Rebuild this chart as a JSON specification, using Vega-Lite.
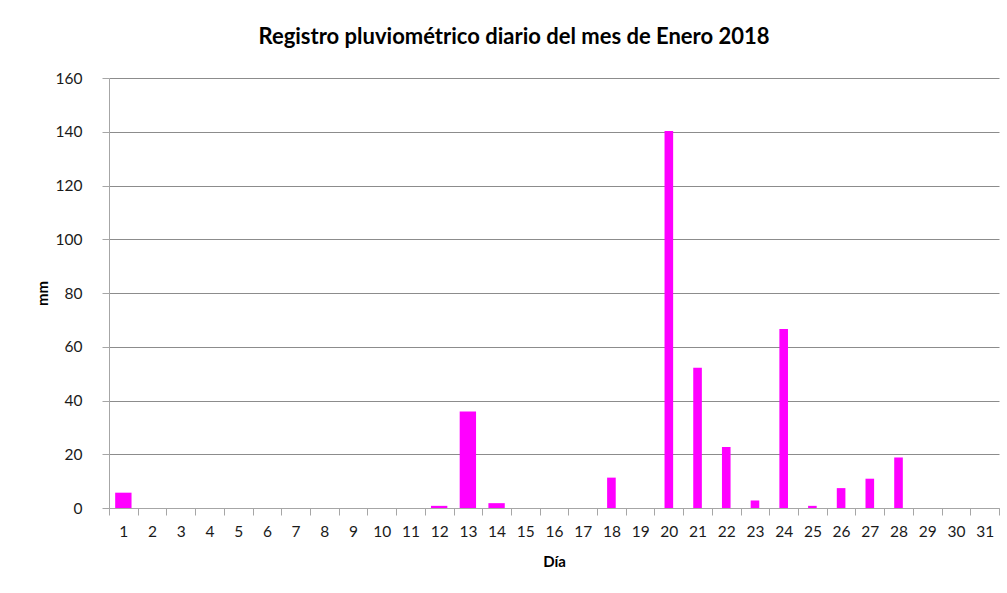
{
  "$schema": "https://vega.github.io/schema/vega-lite/v6.json",
  "autosize": {"type": "none"},
  "width": 890,
  "height": 430,
  "padding": {"left": 109, "top": 78, "right": 8, "bottom": 85},
  "background": "white",
  "title": {
    "text": "Registro pluviométrico diario del mes de Enero 2018",
    "font": "Lato",
    "fontSize": 22,
    "fontWeight": "bold",
    "color": "#000000",
    "anchor": "middle",
    "dx": -40,
    "offset": 22
  },
  "config": {
    "view": {"stroke": null},
    "font": "Lato",
    "axis": {
      "labelFont": "Lato",
      "labelFontSize": 15.5,
      "labelColor": "#1a1a1a",
      "titleFont": "Lato",
      "titleFontSize": 15,
      "titleFontWeight": "bold",
      "titleColor": "#000000",
      "domainColor": "#a6a6a6",
      "tickColor": "#a6a6a6",
      "tickSize": 7
    }
  },
  "data": {
    "values": [
      {"dia": 1, "mm": 5.7},
      {"dia": 2, "mm": 0},
      {"dia": 3, "mm": 0},
      {"dia": 4, "mm": 0},
      {"dia": 5, "mm": 0},
      {"dia": 6, "mm": 0},
      {"dia": 7, "mm": 0},
      {"dia": 8, "mm": 0},
      {"dia": 9, "mm": 0},
      {"dia": 10, "mm": 0},
      {"dia": 11, "mm": 0},
      {"dia": 12, "mm": 0.8},
      {"dia": 13, "mm": 35.9},
      {"dia": 14, "mm": 1.8},
      {"dia": 15, "mm": 0},
      {"dia": 16, "mm": 0},
      {"dia": 17, "mm": 0},
      {"dia": 18, "mm": 11.3},
      {"dia": 19, "mm": 0},
      {"dia": 20, "mm": 140.3},
      {"dia": 21, "mm": 52.2},
      {"dia": 22, "mm": 22.7},
      {"dia": 23, "mm": 2.8},
      {"dia": 24, "mm": 66.6},
      {"dia": 25, "mm": 0.8},
      {"dia": 26, "mm": 7.4},
      {"dia": 27, "mm": 10.9},
      {"dia": 28, "mm": 18.8},
      {"dia": 29, "mm": 0},
      {"dia": 30, "mm": 0},
      {"dia": 31, "mm": 0}
    ]
  },
  "encoding": {
    "x": {
      "field": "dia",
      "type": "ordinal",
      "title": "Día",
      "scale": {"paddingInner": 0, "paddingOuter": 0},
      "axis": {
        "labelAngle": 0,
        "tickBand": "extent",
        "labelPadding": 9,
        "titlePadding": 15,
        "grid": false
      }
    },
    "y": {
      "field": "mm",
      "type": "quantitative",
      "title": "mm",
      "scale": {"domain": [0, 160]},
      "axis": {
        "values": [0, 20, 40, 60, 80, 100, 120, 140, 160],
        "grid": true,
        "gridColor": "#8c8c8c",
        "labelPadding": 20,
        "titlePadding": 5
      }
    }
  },
  "layer": [
    {
      "transform": [{"filter": "datum.dia <= 14"}],
      "mark": {"type": "bar", "color": "#ff00ff", "width": {"band": 0.57}}
    },
    {
      "transform": [{"filter": "datum.dia > 14"}],
      "mark": {"type": "bar", "color": "#ff00ff", "width": {"band": 0.3}}
    }
  ]
}
